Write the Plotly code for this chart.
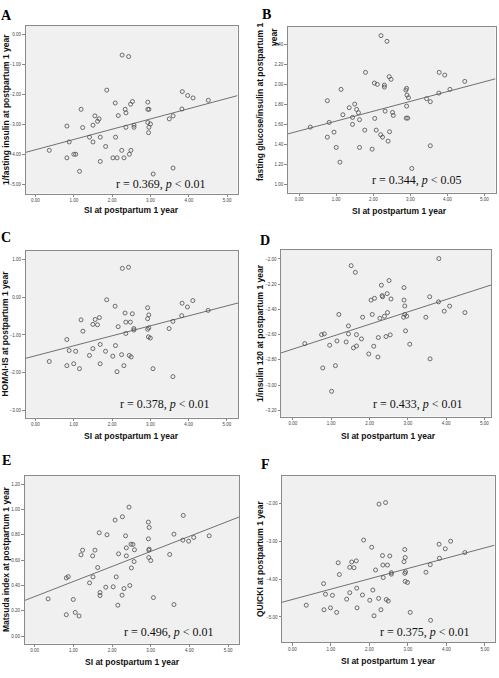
import numpy as np
import plotly.graph_objects as go

W, H = 499, 678

# ---------------- data ----------------
x_ticks = [0, 1, 2, 3, 4, 5]

si_a = [0.36,0.82,0.82,0.88,1.00,1.05,1.15,1.19,1.23,1.41,1.50,1.50,1.55,1.62,1.66,1.69,1.69,1.83,1.86,2.02,2.08,2.09,2.13,2.16,2.26,2.25,2.31,2.34,2.36,2.36,2.43,2.45,2.48,2.49,2.53,2.57,2.57,2.93,2.93,2.96,2.93,2.96,2.95,3.00,3.07,3.49,3.59,3.59,3.82,3.83,3.97,4.11,4.51]
y_a = [-3.87,-3.06,-4.12,-3.59,-4.00,-4.00,-4.57,-2.50,-3.11,-3.43,-3.59,-3.03,-2.72,-2.90,-2.82,-3.43,-4.24,-3.74,-1.86,-4.12,-2.29,-3.43,-4.12,-2.71,-0.69,-3.87,-4.12,-2.50,-2.62,-3.10,-0.74,-4.00,-2.33,-3.87,-2.24,-3.03,-3.10,-2.26,-2.50,-2.50,-2.94,-3.10,-3.28,-2.99,-4.66,-2.82,-2.72,-4.46,-2.49,-1.91,-2.04,-2.12,-2.20]
yticks_a = [0, -1, -2, -3, -4, -5]

si_b = [0.30,0.76,0.76,0.81,0.94,1.00,1.10,1.13,1.18,1.35,1.44,1.44,1.50,1.55,1.60,1.63,1.63,1.77,1.79,1.97,2.03,2.04,2.08,2.11,2.20,2.21,2.25,2.30,2.30,2.32,2.37,2.40,2.43,2.44,2.48,2.52,2.54,2.88,2.90,2.90,2.91,2.89,2.93,2.95,3.04,3.44,3.54,3.54,3.78,3.77,3.93,4.07,4.47]
y_b = [1.573,1.837,1.473,1.620,1.523,1.370,1.223,1.950,1.697,1.767,1.670,1.600,1.803,1.750,1.717,1.647,1.370,1.543,2.120,1.353,2.013,1.660,1.543,2.000,1.497,2.487,1.473,1.973,1.993,1.733,2.430,1.433,2.077,1.527,2.050,1.720,1.690,1.943,1.960,1.783,1.893,1.663,1.663,1.867,1.160,1.857,1.827,1.387,2.120,1.913,2.093,1.950,2.030]
yticks_b = [1.0, 1.2, 1.4, 1.6, 1.8, 2.0, 2.2, 2.4]

si_c = [0.36,0.82,0.82,0.88,1.00,1.05,1.15,1.19,1.24,1.41,1.50,1.50,1.56,1.62,1.67,1.69,1.69,1.83,1.86,2.02,2.08,2.09,2.13,2.16,2.27,2.25,2.31,2.34,2.36,2.36,2.43,2.45,2.48,2.50,2.53,2.57,2.57,2.93,2.93,2.96,2.93,2.96,2.95,3.00,3.07,3.49,3.59,3.59,3.82,3.83,3.97,4.11,4.51]
y_c = [-1.70,-1.12,-1.81,-1.41,-1.76,-1.43,-1.89,-0.60,-0.90,-1.54,-0.72,-1.36,-0.59,-0.73,-0.54,-1.25,-1.76,-1.43,-0.07,-1.56,-0.24,-1.28,-1.97,-0.78,0.76,-1.52,-1.81,-0.42,-0.66,-0.96,0.79,-1.54,-0.66,-1.58,-0.44,-0.83,-0.87,-0.28,-0.57,-0.47,-0.85,-0.81,-1.05,-1.08,-1.89,-0.83,-0.64,-2.10,-0.49,-0.16,-0.26,-0.09,-0.35]
yticks_c = [1, 0, -1, -2, -3]

si_d = [0.31,0.75,0.82,0.78,0.96,1.01,1.11,1.15,1.20,1.39,1.45,1.45,1.52,1.58,1.63,1.66,1.66,1.79,1.82,1.98,2.04,2.07,2.11,2.13,2.22,2.23,2.27,2.31,2.33,2.34,2.39,2.43,2.46,2.47,2.51,2.54,2.56,2.90,2.90,2.92,2.89,2.92,2.97,2.94,3.05,3.47,3.57,3.58,3.80,3.81,3.95,4.09,4.49]
y_d = [-2.671,-2.600,-2.594,-2.864,-2.684,-3.049,-2.846,-2.650,-2.440,-2.658,-2.594,-2.531,-2.053,-2.705,-2.106,-2.600,-2.690,-2.634,-2.462,-2.753,-2.326,-2.440,-2.692,-2.312,-2.777,-2.623,-2.470,-2.208,-2.290,-2.300,-2.454,-2.615,-2.275,-2.425,-2.171,-2.602,-2.317,-2.227,-2.326,-2.373,-2.462,-2.440,-2.454,-2.570,-2.676,-2.462,-2.300,-2.792,-2.340,-1.997,-2.414,-2.374,-2.425]
yticks_d = [-2.0, -2.2, -2.4, -2.6, -2.8, -3.0, -3.2]

si_e = [0.35,0.82,0.87,0.82,1.00,1.05,1.15,1.20,1.24,1.42,1.51,1.50,1.56,1.63,1.67,1.69,1.69,1.84,1.87,2.03,2.08,2.11,2.15,2.17,2.27,2.26,2.31,2.35,2.37,2.37,2.44,2.46,2.49,2.50,2.54,2.58,2.57,2.94,2.96,2.94,2.95,2.96,2.95,3.00,3.07,3.49,3.60,3.60,3.83,3.84,3.98,4.11,4.51]
y_e = [0.295,0.460,0.470,0.170,0.290,0.188,0.160,0.642,0.679,0.421,0.468,0.634,0.679,0.542,0.816,0.345,0.321,0.387,0.800,0.390,0.916,0.468,0.245,0.650,0.942,0.324,0.376,0.792,0.697,0.634,1.018,0.400,0.726,0.539,0.724,0.682,0.589,0.900,0.858,0.768,0.679,0.687,0.621,0.597,0.305,0.645,0.805,0.250,0.758,0.953,0.750,0.779,0.792]
yticks_e = [0.0, 0.2, 0.4, 0.6, 0.8, 1.0, 1.2]

si_f = [0.36,0.81,0.82,0.86,0.99,1.04,1.15,1.19,1.22,1.41,1.49,1.49,1.54,1.60,1.66,1.67,1.68,1.82,1.85,2.01,2.06,2.09,2.12,2.16,2.25,2.24,2.30,2.34,2.35,2.36,2.42,2.44,2.47,2.49,2.53,2.57,2.57,2.92,2.93,2.90,2.92,2.94,2.93,2.99,3.06,3.47,3.58,3.59,3.81,3.82,3.97,4.11,4.48]
y_f = [-4.69,-4.12,-4.81,-4.40,-4.76,-4.43,-4.88,-3.57,-3.88,-4.53,-4.36,-3.69,-3.55,-3.70,-3.52,-4.24,-4.76,-4.42,-2.97,-4.56,-3.16,-4.29,-4.97,-3.76,-2.02,-4.51,-4.81,-3.38,-3.63,-3.96,-1.98,-4.54,-3.63,-4.58,-3.39,-3.83,-3.87,-3.22,-3.43,-3.54,-3.85,-3.81,-4.06,-4.09,-4.88,-3.82,-3.62,-5.09,-3.08,-3.45,-3.20,-3.00,-3.30]
yticks_f = [-2, -3, -4, -5]

letters = ["A", "B", "C", "D", "E", "F"]
r_values = ["0.369", "0.344", "0.378", "0.433", "0.496", "0.375"]
p_values = ["0.01", "0.05", "0.01", "0.01", "0.01", "0.01"]
y_titles = [
    "1/fasting insulin at postpartum 1 year",
    "fasting glucose/insulin at postpartum 1|year",
    "HOMAI-IS at postpartum 1 year",
    "1/insulin 120 at postpartum 1 year",
    "Matsuda index at postpartum 1 year",
    "QUICKI at postpartum 1 year",
]
x_title = "SI at postpartum 1 year"

# ---------------- geometry / style (pixels) ----------------
geom = [
    dict(box=(25.5, 237.5, 25.7, 193.5), xr=[-0.26, 5.27], yr=[-5.31, 0.29], let=(6, 15), yt=5.5, xt=(131, 210), rt=(161, 184)),
    dict(box=(287.7, 495.5, 26.5, 192.5), xr=[-0.31, 5.30], yr=[0.92, 2.578], let=(266, 14.5), yt=259.5, xt=(399, 211), rt=(417, 180)),
    dict(box=(25.5, 238, 250.7, 417.5), xr=[-0.26, 5.29], yr=[-3.18, 1.227], let=(6, 238), yt=5.5, xt=(131, 436), rt=(165, 404)),
    dict(box=(281, 491, 249.5, 416.5), xr=[-0.31, 5.17], yr=[-3.249, -1.925], let=(265, 240), yt=260, xt=(388, 436), rt=(418, 404)),
    dict(box=(24.5, 239, 475.7, 643.5), xr=[-0.26, 5.28], yr=[-0.057, 1.266], let=(6, 460), yt=5.5, xt=(132, 662), rt=(169, 632)),
    dict(box=(282, 494.5, 475.7, 642.3), xr=[-0.27, 5.25], yr=[-5.67, -1.27], let=(265, 465), yt=260, xt=(388, 661), rt=(425, 632)),
]

xs = [si_a, si_b, si_c, si_d, si_e, si_f]
ys = [y_a, y_b, y_c, y_d, y_e, y_f]
yticks = [yticks_a, yticks_b, yticks_c, yticks_d, yticks_e, yticks_f]

FRAME = "#8a8a8a"
TICKFONT = dict(family="Liberation Sans, Arial", size=4.5, color="#444")
TITLEFONT = dict(family="Liberation Sans, Arial", size=8.5, color="#111")
SERIF = "Liberation Serif, Times New Roman"


def px(xp):
    return xp / W


def py(yp):
    return 1 - yp / H


fig = go.Figure()
layout = dict(
    width=W, height=H, autosize=False,
    margin=dict(l=0, r=0, t=0, b=0, pad=0),
    paper_bgcolor="white", plot_bgcolor="#f0f0f0",
    showlegend=False, annotations=[],
)

for i in range(6):
    g = geom[i]
    n = "" if i == 0 else str(i + 1)
    L, R, T, B = g["box"]
    axis_common = dict(
        showgrid=False, zeroline=False, showline=True, mirror=True,
        linecolor=FRAME, linewidth=1, ticks="outside", ticklen=2.5,
        tickwidth=0.8, tickcolor=FRAME, tickfont=TICKFONT,
        tickformat=".2f", fixedrange=True,
    )
    layout["xaxis" + n] = dict(axis_common, domain=[px(L), px(R)], range=g["xr"],
                               tickvals=x_ticks, anchor="y" + n)
    layout["yaxis" + n] = dict(axis_common, domain=[py(B), py(T)], range=g["yr"],
                               tickvals=yticks[i], anchor="x" + n)

    x = np.array(xs[i]); y = np.array(ys[i])
    slope, icpt = np.polyfit(x, y, 1)
    lx = np.array(g["xr"])
    fig.add_trace(go.Scatter(x=lx, y=slope * lx + icpt, mode="lines",
                             line=dict(color="#707070", width=1),
                             xaxis="x" + n, yaxis="y" + n, hoverinfo="skip"))
    fig.add_trace(go.Scatter(x=x, y=y, mode="markers",
                             marker=dict(symbol="circle-open", size=4,
                                         color="#555555", line=dict(width=0.85, color="#555555")),
                             xaxis="x" + n, yaxis="y" + n))

    anns = layout["annotations"]
    anns.append(dict(text="<b>%s</b>" % letters[i], x=px(g["let"][0]), y=py(g["let"][1]),
                     xref="paper", yref="paper", showarrow=False, xanchor="center", yanchor="middle",
                     font=dict(family=SERIF, size=14, color="#000")))
    anns.append(dict(text="<b>%s</b>" % x_title, x=px(g["xt"][0]), y=py(g["xt"][1]),
                     xref="paper", yref="paper", showarrow=False, xanchor="center", yanchor="middle",
                     font=TITLEFONT))
    ymid = (T + B) / 2
    parts = y_titles[i].split("|")
    if len(parts) == 1:
        anns.append(dict(text="<b>%s</b>" % parts[0], x=px(g["yt"]), y=py(ymid),
                         xref="paper", yref="paper", showarrow=False, textangle=-90,
                         xanchor="center", yanchor="middle", font=TITLEFONT))
    else:
        anns.append(dict(text="<b>%s</b>" % parts[0], x=px(g["yt"]), y=py(102.5),
                         xref="paper", yref="paper", showarrow=False, textangle=-90,
                         xanchor="center", yanchor="middle", font=TITLEFONT))
        anns.append(dict(text="<b>%s</b>" % parts[1], x=px(g["yt"] + 14.5), y=py(37),
                         xref="paper", yref="paper", showarrow=False, textangle=-90,
                         xanchor="center", yanchor="middle", font=TITLEFONT))
    anns.append(dict(text="r = %s, <i>p</i> &lt; %s" % (r_values[i], p_values[i]),
                     x=px(g["rt"][0]), y=py(g["rt"][1]), xref="paper", yref="paper",
                     showarrow=False, xanchor="center", yanchor="middle",
                     font=dict(family=SERIF, size=12, color="#111")))

fig.update_layout(**layout)
fig.write_html("out.html")
